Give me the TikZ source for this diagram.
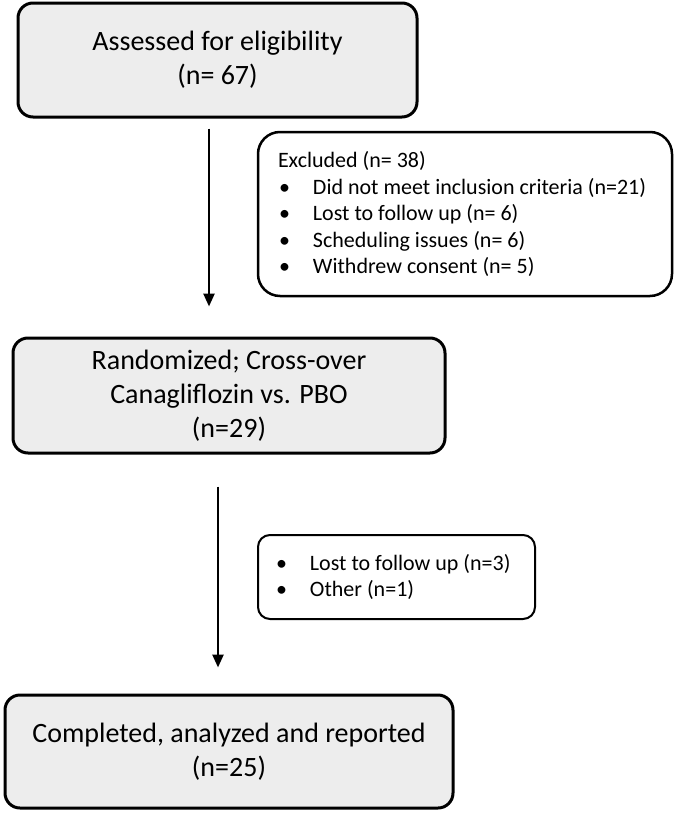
\documentclass[tikz,border=0pt]{standalone}
\usepackage{fontspec}
\setmainfont{Carlito}
\usepackage{tikz}
\usetikzlibrary{arrows.meta}

\definecolor{boxgray}{RGB}{237,237,237}
% one line of a list box, with the font's own word spaces
\newcommand{\listline}[1]{\mbox{\spaceskip=0pt\xspaceskip=0pt\relax #1}}
\newcommand{\bulletitem}[1]{\hspace*{1pt}\makebox[34pt][l]{•}\listline{#1}}

\begin{document}
\begin{tikzpicture}[x=1pt, y=-1pt,
    mainbox/.style={draw, line width=3pt, rounded corners=15pt, fill=boxgray,
      align=center, inner sep=0pt, font=\fontsize{28}{34}\selectfont,
      execute at begin node={\rule{0pt}{27pt}}},
    listbox/.style={draw, line width=2.5pt, rounded corners=22pt, align=left,
      inner ysep=0pt, font=\fontsize{22}{26.5}\selectfont},
    flow/.style={line width=2.5pt, -{Triangle[width=11pt, length=13pt]}}]
    \useasboundingbox[fill=white] (0, 0) rectangle (674, 814);

    % Main steps of the trial
    \node[mainbox, minimum width=399pt, minimum height=114pt] (assess)
      at (217.5, 60) {Assessed for eligibility\\(n= 67)};
    \node[mainbox, minimum width=432pt, minimum height=115pt] (rand)
      at (229, 395.5) {Randomized; Cross-over\\Canagliflozin vs. PBO\\(n=29)};
    \node[mainbox, minimum width=448pt, minimum height=113pt] (done)
      at (229, 751.5) {Completed, analyzed and reported\\(n=25)};

    % Side boxes with the drop-outs
    \node[listbox, text width=374pt, inner xsep=20pt, minimum height=164pt] (excl)
      at (465, 214) {\listline{Excluded (n= 38)}\\
        \bulletitem{Did not meet inclusion criteria (n=21)}\\
        \bulletitem{Lost to follow up (n= 6)}\\
        \bulletitem{Scheduling issues (n= 6)}\\
        \bulletitem{Withdrew consent (n= 5)}};
    \node[listbox, line width=2pt, rounded corners=12pt, text width=243pt,
      inner xsep=17pt, minimum height=84pt] (lost)
      at (396.5, 577) {\bulletitem{Lost to follow up (n=3)}\\
        \bulletitem{Other (n=1)}};

    % Drawing the arrows
    \draw[flow, shorten <=10pt, shorten >=30pt]
      ([xshift=-8.5pt]assess.south) -- ([xshift=-8.5pt]assess.south |- rand.north);
    \draw[flow, shorten <=32pt, shorten >=26pt]
      ([xshift=-11pt]rand.south) -- ([xshift=-11pt]rand.south |- done.north);
  \end{tikzpicture}
\end{document}
